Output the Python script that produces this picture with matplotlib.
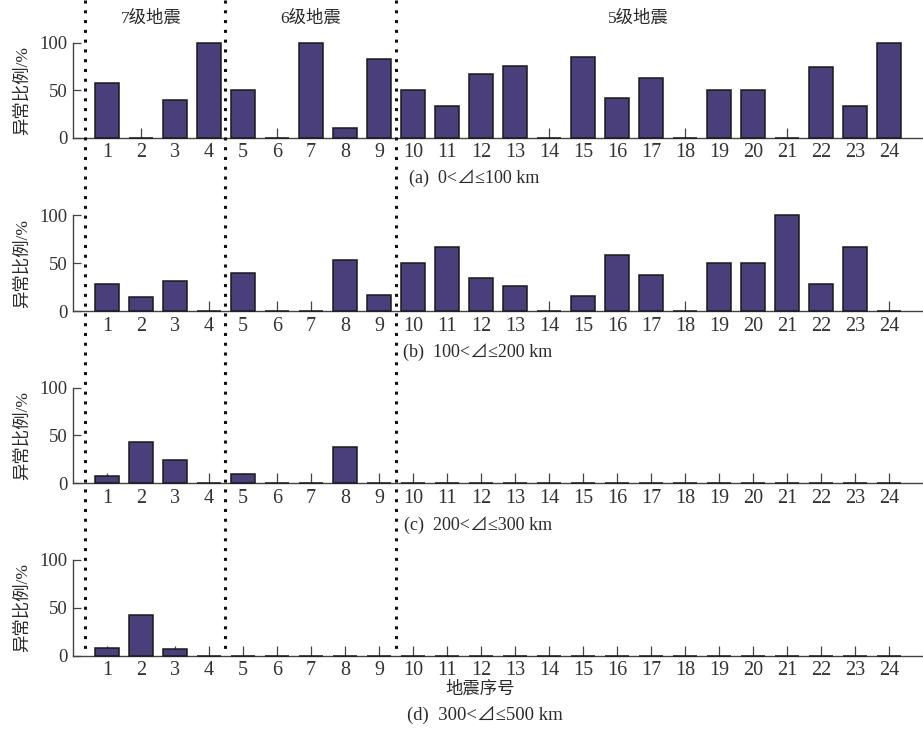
import matplotlib
matplotlib.use("Agg")
import matplotlib.pyplot as plt
from matplotlib.lines import Line2D
from matplotlib.transforms import blended_transform_factory

plt.rcParams['font.family'] = ['Liberation Serif', 'Noto Sans CJK SC', 'DejaVu Sans']

# Earthquake index and anomaly ratio (%) for each epicentral distance band
quake_ids = list(range(1, 25))
ratio_0_100 = [58, 0, 40, 100, 50, 0, 100, 10, 83, 50, 33, 67,
               75, 0, 85, 42, 63, 0, 50, 50, 0, 74, 33, 100]
ratio_100_200 = [28, 15, 31, 0, 40, 0, 0, 53, 17, 50, 67, 34,
                 26, 0, 16, 58, 38, 0, 50, 50, 100, 28, 67, 0]
ratio_200_300 = [8, 43, 24, 0, 10, 0, 0, 38, 0, 0, 0, 0,
                 0, 0, 0, 0, 0, 0, 0, 0, 0, 0, 0, 0]
ratio_300_500 = [8, 43, 7, 0, 0, 0, 0, 0, 0, 0, 0, 0,
                 0, 0, 0, 0, 0, 0, 0, 0, 0, 0, 0, 0]

panels = [ratio_0_100, ratio_100_200, ratio_200_300, ratio_300_500]
captions = ["(a)  0<⊿≤100 km", "(b)  100<⊿≤200 km",
            "(c)  200<⊿≤300 km", "(d)  300<⊿≤500 km"]
y_ticks = [0, 50, 100]
group_labels = ["7级地震", "6级地震", "5级地震"]
group_bounds = [0.35, 4.47, 9.5]

W, H = 923, 736
fig = plt.figure(figsize=(W / 100, H / 100), dpi=100)
fig.patch.set_facecolor("white")

bar_color = "#4a3f7b"
ink = "#2a2a2a"

# pixel rows of the zero line and the 100 line of each panel
zero_rows = [137.7, 311.0, 483.3, 655.7]
top_rows = [42.7, 215.0, 387.7, 560.0]
caption_rows = [178, 352, 525, 715]
caption_cols = [474, 478, 478, 485]
caption_sizes = [13, 13, 13, 13.5]
left_px = 73

axes = []
for i, vals in enumerate(panels):
    y0, y1 = zero_rows[i], top_rows[i]
    ax = fig.add_axes([left_px / W, 1 - y0 / H, 1 - left_px / W, (y0 - y1) / H])
    ax.set_facecolor("none")
    ax.bar(quake_ids, vals, width=0.73, color=bar_color, edgecolor="#1a1a1a",
           linewidth=1.1, zorder=3, clip_on=False)
    ax.set_xlim(0, 25)
    ax.set_ylim(0, 100)
    for s in ["top", "right"]:
        ax.spines[s].set_visible(False)
    ax.spines["left"].set_bounds(0, 100)
    for s in ["left", "bottom"]:
        ax.spines[s].set_color("#444444")
        ax.spines[s].set_linewidth(1.0)
    ax.set_xticks(quake_ids)
    ax.set_xticklabels([str(q) for q in quake_ids])
    ax.set_yticks(y_ticks)
    ax.set_yticklabels([str(v) for v in y_ticks])
    ax.tick_params(axis="x", direction="in", length=7, width=0.9, color="#444444",
                   labelsize=14.5, labelcolor="#333333", pad=4)
    ax.tick_params(axis="y", direction="in", length=6, width=0.9, color="#444444",
                   labelsize=13.5, labelcolor="#333333", pad=4)
    fig.text(22 / W, 1 - (y0 + y1) / 2 / H, "异常比例/%", rotation=90,
             ha="center", va="center", fontsize=12.5, color=ink)
    fig.text(caption_cols[i] / W, 1 - caption_rows[i] / H, captions[i],
             ha="center", va="center", fontsize=caption_sizes[i], color=ink)
    axes.append(ax)

fig.text(480 / W, 1 - 690 / H, "地震序号", ha="center", va="center",
         fontsize=12.5, color=ink)

# dotted separators between magnitude groups, spanning all panels
trans = blended_transform_factory(axes[0].transData, fig.transFigure)
for xb in group_bounds:
    fig.add_artist(Line2D([xb, xb], [1.0, 1 - 650 / H], transform=trans,
                          color="#111111", linewidth=2.2,
                          linestyle=(0, (1, 2.2)), dash_capstyle="butt"))

for label, cx in zip(group_labels, [151, 311, 638]):
    fig.text(cx / W, 1 - 19 / H, label, ha="center", va="center",
             fontsize=12.5, color=ink)

fig.savefig("out.png", dpi=100)
